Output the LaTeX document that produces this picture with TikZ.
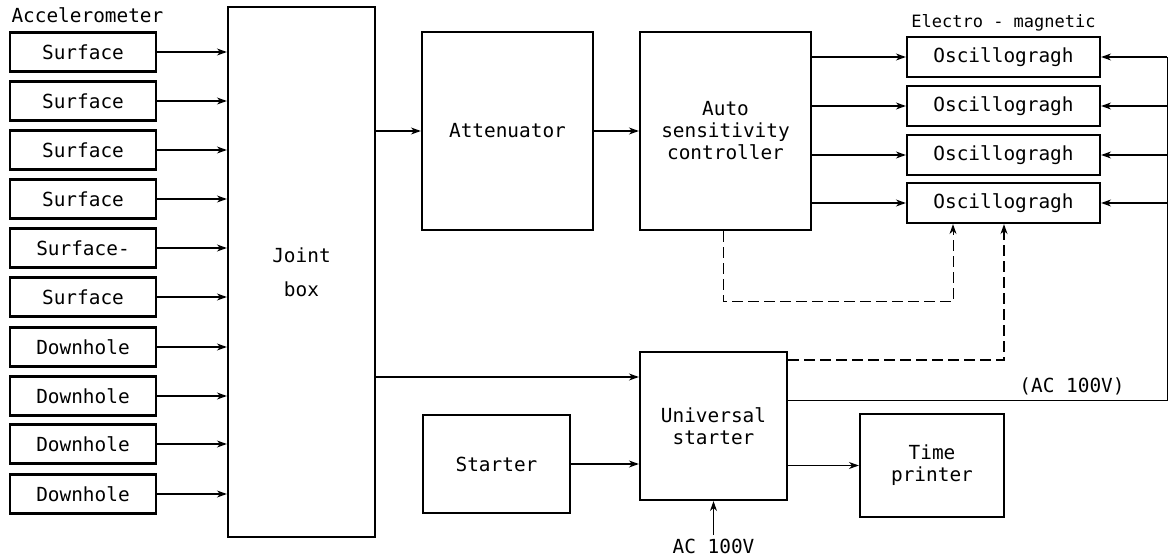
\documentclass[tikz,border=0pt]{standalone}
\usepackage{fontspec}
\setmainfont{DejaVu Sans Mono}
\usetikzlibrary{arrows.meta, positioning}

\begin{document}
\begin{tikzpicture}[
    x=1pt, y=-1pt,
    font=\fontsize{19.4}{22}\selectfont,
    box/.style={draw, line width=2.2pt, align=center, inner sep=0pt},
    sensor/.style={box, minimum width=146pt, minimum height=39pt},
    osc/.style={box, minimum width=193pt, minimum height=40pt},
    flow/.style={-{Stealth[length=10pt, width=7pt]}, line width=1.5pt},
    ctrl/.style={flow, line width=1pt, dash pattern=on 11pt off 5pt},
    power/.style={line width=1pt},
    note/.style={font=\fontsize{17}{20}\selectfont},
]
\useasboundingbox (0,0) rectangle (1168,556);

% --- Joint box collects every accelerometer channel ---------------------------
\node[box, minimum width=147pt, minimum height=530pt] (joint) at (301.5,272)
    {Joint\\[12pt]box};
\node[anchor=west] (acclbl) at (8,15) {Accelerometer};
\foreach \i/\t/\y in {1/Surface/52, 2/Surface/101, 3/Surface/150, 4/Surface/199,
    5/Surface-/248, 6/Surface/297, 7/Downhole/347, 8/Downhole/396,
    9/Downhole/444, 10/Downhole/494} {
  \node[sensor] (s\i) at (83,\y) {\t};
  \draw[flow] (s\i.east) -- (s\i.east -| joint.west);
}

% --- Signal chain: attenuator, controller, oscillographs ----------------------
\node[box, minimum width=171pt, minimum height=198pt] (atten) at (507.5,131)
    {Attenuator};
\node[box, minimum width=171pt, minimum height=198pt] (ctrl) at (725.5,131)
    {Auto\\sensitivity\\controller};
\draw[flow] (joint.east |- atten.west) -- (atten.west);
\draw[flow] (atten) -- (ctrl);
\foreach \i/\y in {1/57, 2/106, 3/155, 4/203} {
  \node[osc] (osc\i) at (1003.5,\y) {Oscillogragh};
  \draw[flow] (ctrl.east |- osc\i.west) -- (osc\i.west);
}
\node[note, above=1pt of osc1] (emlbl) {Electro - magnetic};

% --- Starting and timing -------------------------------------------------------
\node[box, minimum width=147pt, minimum height=148pt] (univ) at (713.5,426)
    {Universal\\starter};
\node[box, minimum width=147pt, minimum height=98pt] (starter) at (496.5,464)
    {Starter};
\node[box, minimum width=144pt, minimum height=103pt] (printer) at (932,465.5)
    {Time\\printer};
\coordinate (feed) at (0,377);
\draw[flow] (joint.east |- feed) -- (univ.west |- feed);
\draw[flow] (starter.east) -- (starter.east -| univ.west);
\draw[flow] (univ.east |- printer.west) -- (printer.west);
\node (acin) at (713.5,546) {AC 100V};
\draw[flow, line width=1pt] (acin.north) -- (univ.south);

% --- Power bus to the oscillographs -------------------------------------------
\coordinate (acend) at (1167,400);
\draw[power] (univ.east |- acend) -- (acend) -- (acend |- osc1.east);
\foreach \i in {1,...,4} \draw[flow, line width=1.2pt] (acend |- osc\i.east) -- (osc\i.east);
\node (aclbl) at (1072,386) {(AC 100V)};

% --- Dashed control lines ------------------------------------------------------
\coordinate (c1) at (723,302);
\coordinate (c2) at (953,302);
\coordinate (c3) at (1004,360);
\draw[ctrl] (ctrl.south -| c1) -- (c1) -- (c2) -- (c2 |- osc4.south);
\draw[ctrl, line width=1.6pt] (univ.east |- c3) -- (c3) -- (c3 |- osc4.south);

\end{tikzpicture}
\end{document}
